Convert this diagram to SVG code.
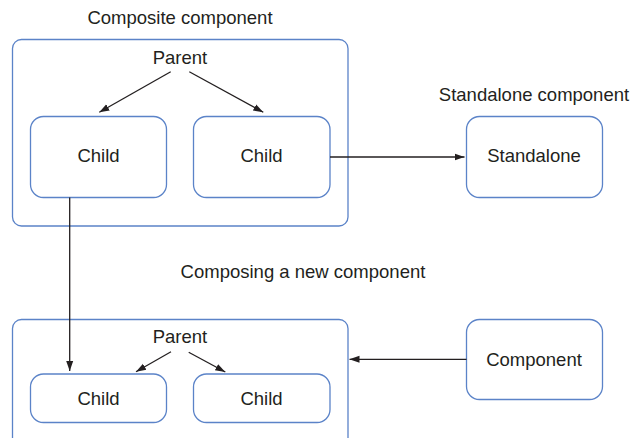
<svg xmlns="http://www.w3.org/2000/svg" width="632" height="438" viewBox="0 0 632 438">
<style>
text{font-family:"Liberation Sans",Arial,sans-serif;font-size:18.5px;fill:#231f20;text-anchor:middle}
.box{fill:#fff;stroke:#5b83c8;stroke-width:1.3}
.c{fill:none;stroke:#231f20;stroke-width:1.3}
</style>
<defs>
<marker id="ah" viewBox="0 0 10 10" refX="10" refY="5" markerWidth="10" markerHeight="10" markerUnits="userSpaceOnUse" orient="auto">
<path d="M0,1.5 L10,5 L0,8.5 Z" fill="#231f20"/>
</marker>
</defs>
<rect width="632" height="438" fill="#fff"/>
<g id="composite">
<rect class="box" x="12.5" y="39.5" width="335.5" height="186.5" rx="9"/>
<text x="180" y="23.5">Composite component</text>
<text x="180" y="63.5">Parent</text>
</g>
<g id="child1"><rect class="box" x="30.5" y="116.5" width="136" height="81" rx="13"/><text x="98.5" y="162">Child</text></g>
<g id="child2"><rect class="box" x="193.5" y="116.5" width="136.5" height="81" rx="13"/><text x="261.5" y="162">Child</text></g>
<g id="standalone">
<text x="534" y="101">Standalone component</text>
<rect class="box" x="466.5" y="116.5" width="136" height="81" rx="13"/>
<text x="534" y="162">Standalone</text>
</g>
<text x="303" y="278">Composing a new component</text>
<g id="composed">
<rect class="box" x="12.5" y="319.5" width="335.5" height="130" rx="9"/>
<text x="180" y="343">Parent</text>
</g>
<g id="child3"><rect class="box" x="30.5" y="374" width="136" height="48.5" rx="13"/><text x="98.5" y="404.5">Child</text></g>
<g id="child4"><rect class="box" x="193.5" y="374" width="136.5" height="48.5" rx="13"/><text x="261.5" y="404.5">Child</text></g>
<g id="component"><rect class="box" x="466.5" y="319.5" width="136" height="80" rx="13"/><text x="534" y="365.5">Component</text></g>
<g id="connectors">
<line class="c" x1="170.7" y1="71.7" x2="99.3" y2="112.3" marker-end="url(#ah)"/>
<line class="c" x1="189.3" y1="71.7" x2="263.3" y2="112.3" marker-end="url(#ah)"/>
<line class="c" x1="330" y1="157" x2="464.5" y2="157" marker-end="url(#ah)"/>
<line class="c" x1="69.7" y1="197.5" x2="69.7" y2="371" marker-end="url(#ah)"/>
<line class="c" x1="171" y1="351.7" x2="136" y2="371.7" marker-end="url(#ah)"/>
<line class="c" x1="188.7" y1="352.3" x2="225.3" y2="372" marker-end="url(#ah)"/>
<line class="c" x1="466.5" y1="359.3" x2="349.5" y2="359.3" marker-end="url(#ah)"/>
</g>
</svg>
